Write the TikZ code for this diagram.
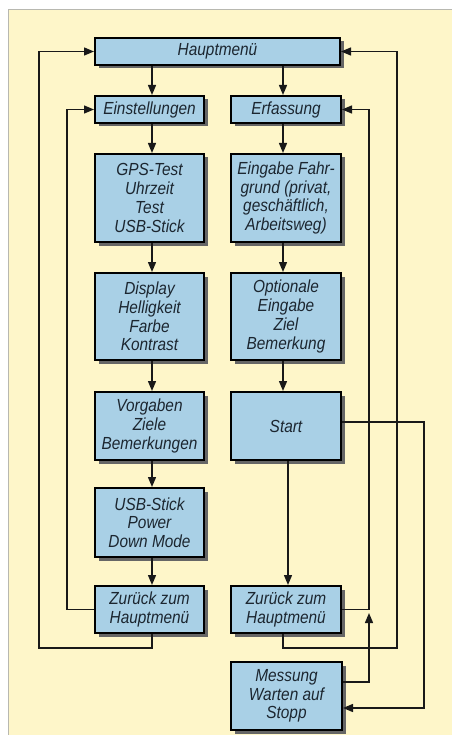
\documentclass[tikz,border=0pt]{standalone}
\usepackage{fontspec}
\setmainfont{Liberation Sans}[FakeStretch=0.88]
\usetikzlibrary{arrows.meta,shadows}
\definecolor{panel}{HTML}{FEF6C9}
\definecolor{boxfill}{HTML}{A9D0E6}
\definecolor{panelline}{HTML}{B8B8B0}
\definecolor{txt}{HTML}{1C2630}
\begin{document}
\begin{tikzpicture}[x=1pt,y=-1pt,
  fbox/.style={draw=black, line width=2pt, fill=boxfill, inner sep=0pt,
    align=center, minimum width=109pt, text=txt,
    font=\fontsize{17.5}{18.7}\selectfont\itshape,
    drop shadow={shadow xshift=3.5pt, shadow yshift=-3.5pt, fill=black!60, opacity=1}},
  conn/.style={line width=1.4pt, black!90},
  arr/.style={conn, -{Triangle[length=10pt,width=8pt]}}]
\useasboundingbox (0,0) rectangle (452,735);
\fill[white] (0,0) rectangle (452,735);
\fill[panel] (8,9) rectangle (452,735);
\draw[panelline, line width=0.8pt] (8,735) -- (8,9) -- (452,9);
% nodes
\node[fbox, minimum width=245pt, minimum height=27pt] (H) at (217.5,51.5) {Hauptmenü};
\node[fbox, minimum height=27pt] (E) at (149.5,109.5) {Einstellungen};
\node[fbox, minimum width=110pt, minimum height=27pt] (F) at (286,109.5) {Erfassung};
\node[fbox, minimum height=88pt] (G1) at (149.5,198) {GPS-Test\\Uhrzeit\\Test\\USB-Stick};
\node[fbox, minimum width=110pt, minimum height=88pt] (G2) at (286,198) {Eingabe Fahr-\\grund (privat,\\geschäftlich,\\Arbeitsweg)};
\node[fbox, minimum height=87pt] (D1) at (149.5,316.5) {Display\\Helligkeit\\Farbe\\Kontrast};
\node[fbox, minimum width=110pt, minimum height=87pt] (D2) at (286,316.5) {Optionale\\Eingabe\\Ziel\\Bemerkung};
\node[fbox, minimum height=68pt] (V1) at (149.5,426) {Vorgaben\\Ziele\\Bemerkungen};
\node[fbox, minimum width=110pt, minimum height=68pt] (S) at (286,426) {Start};
\node[fbox, minimum height=69pt] (U1) at (149.5,522.5) {USB-Stick\\Power\\Down Mode};
\node[fbox, minimum height=47pt] (Z1) at (149.5,609.5) {Zurück zum\\Hauptmenü};
\node[fbox, minimum width=110pt, minimum height=47pt] (Z2) at (286,609.5) {Zurück zum\\Hauptmenü};
\node[fbox, minimum width=111pt, minimum height=68pt] (M) at (286.5,696) {Messung\\Warten auf\\Stopp};
% helper coordinates
\coordinate (cC1) at (152,0);
\coordinate (cC2) at (283,0);
\coordinate (cC3) at (288,0);
\coordinate (cL0) at (39,0);
\coordinate (cL1) at (67,0);
\coordinate (cR1) at (369,0);
\coordinate (cR0) at (397,0);
\coordinate (cR2) at (424,0);
\coordinate (bot) at (0,648);
\coordinate (tip) at (369,613);
% vertical flow
\draw[arr] (H.south -| cC1) -- (E.north -| cC1);
\draw[arr] (H.south -| cC2) -- (F.north -| cC2);
\draw[arr] (E.south -| cC1) -- (G1.north -| cC1);
\draw[arr] (G1.south -| cC1) -- (D1.north -| cC1);
\draw[arr] (D1.south -| cC1) -- (V1.north -| cC1);
\draw[arr] (V1.south -| cC1) -- (U1.north -| cC1);
\draw[arr] (U1.south -| cC1) -- (Z1.north -| cC1);
\draw[arr] (F.south -| cC2) -- (G2.north -| cC2);
\draw[arr] (G2.south -| cC2) -- (D2.north -| cC2);
\draw[arr] (D2.south -| cC2) -- (S.north -| cC2);
\draw[arr] (S.south -| cC3) -- (Z2.north -| cC3);
% return loops left
\draw[arr] (Z1.west) -- (Z1.west -| cL1) -- (cL1 |- E.west) -- (E.west);
\draw[arr] (Z1.south -| cC1) -- (bot -| cC1) -- (bot -| cL0) -- (cL0 |- H.west) -- (H.west);
% return loops right
\draw[arr] (Z2.east) -- (Z2.east -| cR1) -- (cR1 |- F.east) -- (F.east);
\draw[arr] (Z2.south -| cC2) -- (bot -| cC2) -- (bot -| cR0) -- (cR0 |- H.east) -- (H.east);
% Messung back
\draw[arr] ([yshift=14pt]M.east) -- ([yshift=14pt]M.east -| cR1) -- (tip);
% Start to Messung
\draw[arr] ([yshift=4pt]S.east) -- ([yshift=4pt]S.east -| cR2) -- ([yshift=-12pt]M.east -| cR2) -- ([yshift=-12pt]M.east);
\end{tikzpicture}
\end{document}
